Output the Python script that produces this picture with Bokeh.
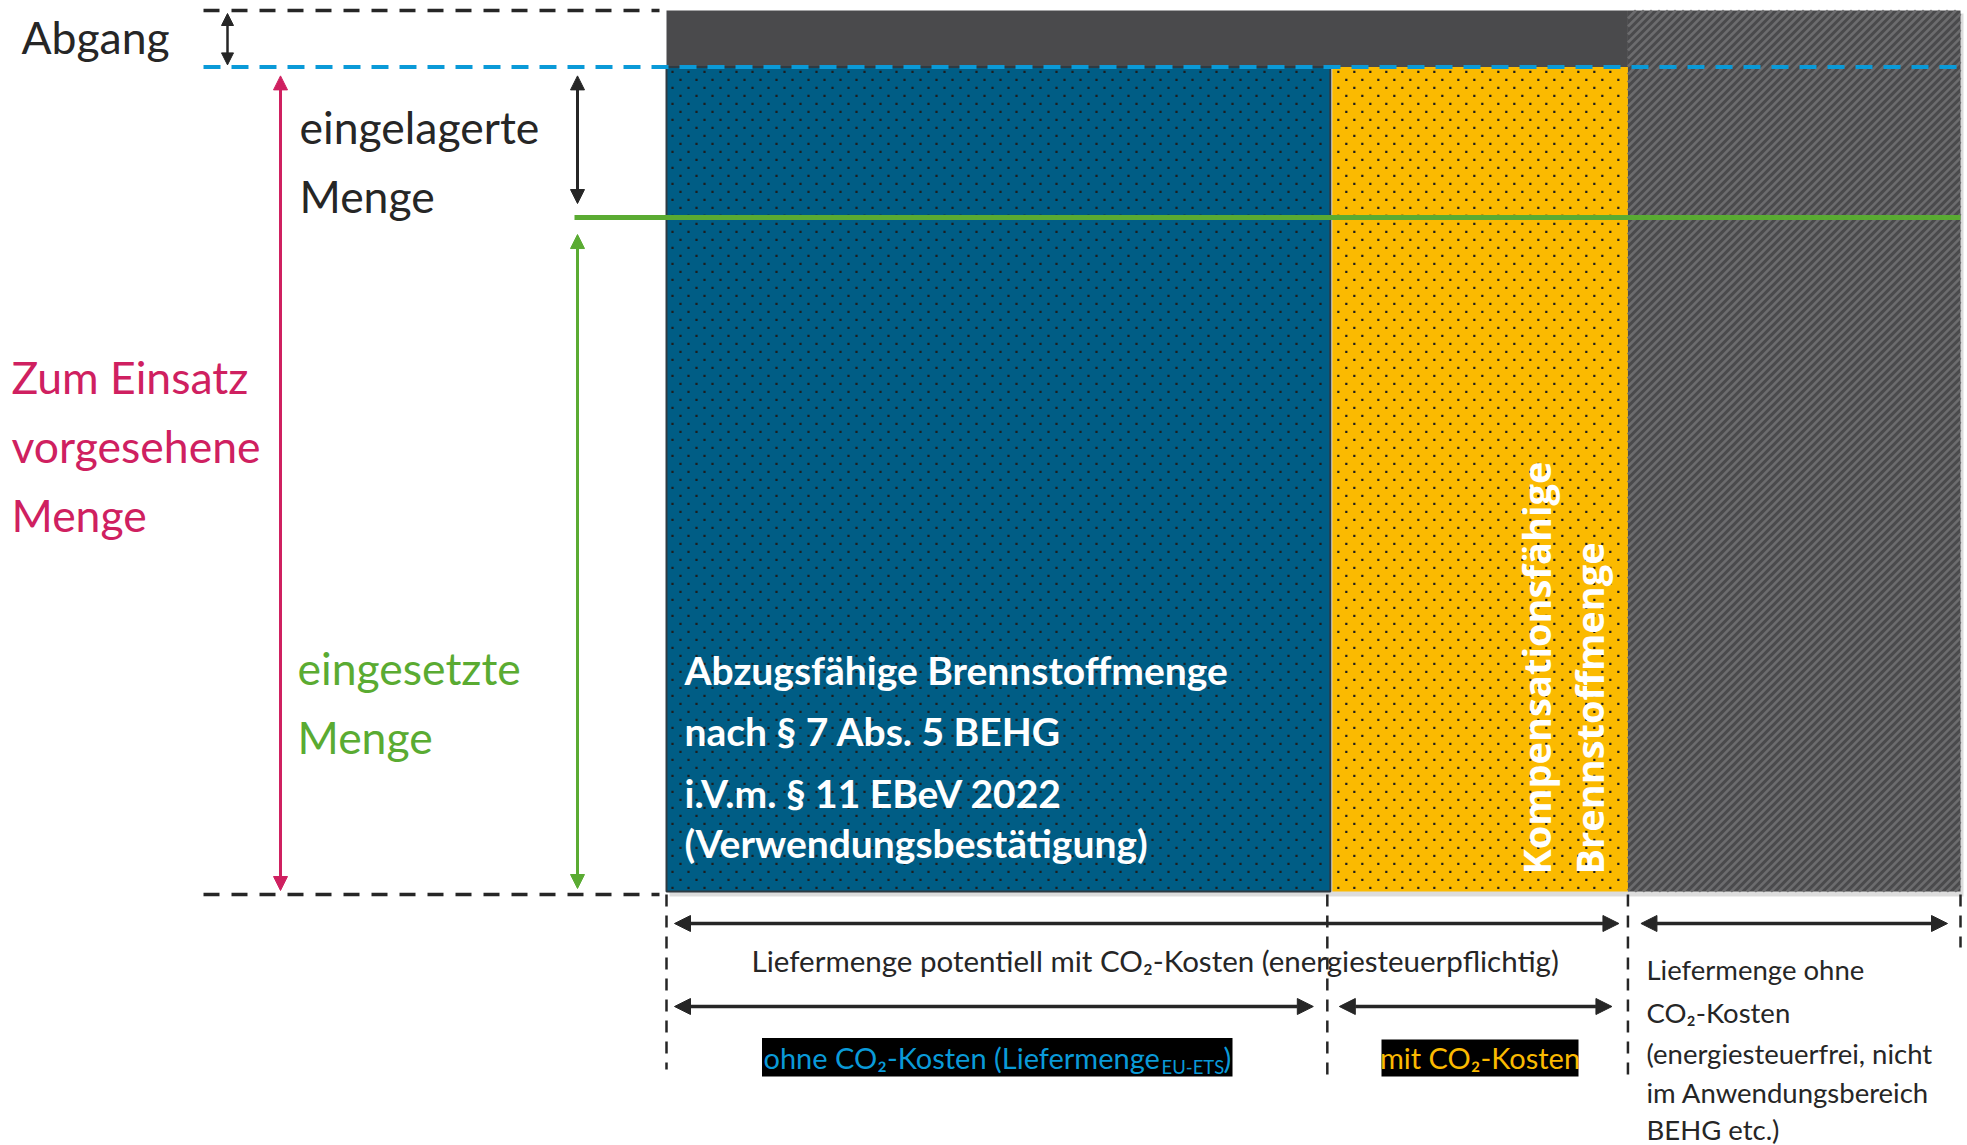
import numpy as np
from bokeh.plotting import figure
from bokeh.models import Range1d, Arrow, NormalHead
from bokeh.core.properties import value
from bokeh.embed import file_html
from bokeh.resources import INLINE

# ---------------- data ----------------
# horizontal split of the delivered quantity (share of total, %)
supply_parts = ["Abzugsfähige Brennstoffmenge", "Kompensationsfähige Brennstoffmenge",
                "Liefermenge ohne CO₂-Kosten"]
supply_share = [51.3, 23.0, 25.7]
# vertical split of the quantity (share of total, %), bottom to top
use_parts = ["eingesetzte Menge", "eingelagerte Menge", "Abgang"]
use_share = [76.5, 17.1, 6.4]

box_text_lines = ["Abzugsfähige Brennstoffmenge", "nach § 7 Abs. 5 BEHG",
                  "i.V.m. § 11 EBeV 2022", "(Verwendungsbestätigung)"]
rot_text_lines = ["Kompensationsfähige", "Brennstoffmenge"]
right_text_lines = ["Liefermenge ohne", "CO₂-Kosten", "(energiesteuerfrei, nicht",
                    "im Anwendungsbereich", "BEHG etc.)"]

# ---------------- layout / style ----------------
W, H = 1967, 1145
BOX_L, BOX_R = 666, 1960
BOX_TOP, BOX_BOT = 10, 891

BLACK = "#262626"
DARK = "#4a4a4c"
BLUE = "#005d85"
YELLOW = "#fbba00"
LBLUE = "#0a9ad8"
GREEN = "#5aab32"
PINK = "#cf2060"
FONT = value("Lato")


def Y(px):
    return H - px


xs = BOX_L + np.concatenate([[0], np.cumsum(supply_share)]) / 100 * (BOX_R - BOX_L)
lv = BOX_BOT - np.concatenate([[0], np.cumsum(use_share)]) / 100 * (BOX_BOT - BOX_TOP)

p = figure(width=W, height=H, x_range=Range1d(0, W), y_range=Range1d(0, H),
           output_backend="svg", toolbar_location=None, min_border=0,
           x_axis_location=None, y_axis_location=None)
p.grid.visible = False
p.outline_line_color = None
p.background_fill_color = "white"
p.border_fill_color = "white"


def dot_texture(x0, x1, y0, y1, step=16):
    """staggered dot raster used as fill texture of a column"""
    px, py = [], []
    for i, yy in enumerate(np.arange(y0, y1, step / 2)):
        xx = np.arange(x0 + (step / 2) * (i % 2), x1, step)
        px.extend(xx)
        py.extend([Y(yy)] * len(xx))
    p.scatter(x=px, y=py, marker="square", size=2.2, fill_color="#1e1e1e", line_color=None)


def stripe_texture(L, R, T, B, step=8):
    """diagonal '/' stripes used as fill texture of a column"""
    x0s, y0s, x1s, y1s = [], [], [], []
    for c in np.arange(L + T, R + B + step, step):
        a, b = max(L, c - B), min(R, c - T)
        if a < b:
            x0s.append(a); y0s.append(Y(c - a)); x1s.append(b); y1s.append(Y(c - b))
    p.segment(x0=x0s, y0=y0s, x1=x1s, y1=y1s, line_color="#6c6c6e", line_width=2.6)


# shadow
p.quad(left=xs[0] + 3, right=xs[3] + 3, top=Y(lv[3] + 3), bottom=Y(lv[0] + 5),
       fill_color="#9a9a9a", fill_alpha=0.35, line_color=None)

# top band (Abgang) over the first two columns
p.quad(left=xs[0], right=xs[2], top=Y(lv[3]), bottom=Y(lv[2]), fill_color=DARK, line_color=None)
# blue column
p.quad(left=xs[0], right=xs[1], top=Y(lv[2]), bottom=Y(lv[0]), fill_color=BLUE,
       line_color="#2e3a42", line_width=2)
dot_texture(xs[0] + 6, xs[1] - 3, lv[2] + 5, lv[0] - 3)
# yellow column
p.quad(left=xs[1] + 2, right=xs[2], top=Y(lv[2]), bottom=Y(lv[0]), fill_color=YELLOW,
       line_color=None)
dot_texture(xs[1] + 8, xs[2] - 3, lv[2] + 5, lv[0] - 3)
# grey hatched column
p.quad(left=xs[2], right=xs[3], top=Y(lv[3]), bottom=Y(lv[0]), fill_color=DARK, line_color=None)
stripe_texture(xs[2], xs[3], lv[3], lv[0])

# dashed level lines
p.segment(x0=[203], y0=[Y(lv[3])], x1=[659], y1=[Y(lv[3])], line_color=BLACK,
          line_width=3.5, line_dash="16 12")
p.segment(x0=[203], y0=[Y(lv[2])], x1=[BOX_R], y1=[Y(lv[2])], line_color=LBLUE,
          line_width=4, line_dash="17 11")
p.segment(x0=[203], y0=[Y(lv[0] + 3)], x1=[659], y1=[Y(lv[0] + 3)], line_color=BLACK,
          line_width=3.5, line_dash="16 12")
# green level line
p.segment(x0=[574], y0=[Y(lv[1])], x1=[BOX_R], y1=[Y(lv[1])], line_color=GREEN, line_width=5)

# vertical dashed separators below the box
vx = [xs[0], xs[1] - 3, xs[2], xs[3]]
vy1 = [1069, 1075, 1077, 947]
p.segment(x0=vx, y0=[Y(lv[0] + 3)] * 4, x1=vx, y1=[Y(v) for v in vy1], line_color=BLACK,
          line_width=2.5, line_dash="12 9")


def darrow(x0, y0, x1, y1, color, size=14, lw=3):
    p.add_layout(Arrow(x_start=x0, y_start=Y(y0), x_end=x1, y_end=Y(y1),
                       start=NormalHead(size=size, fill_color=color, line_color=color),
                       end=NormalHead(size=size, fill_color=color, line_color=color),
                       line_color=color, line_width=lw))


darrow(227, lv[3] + 3, 227, lv[2] - 2, BLACK, size=12, lw=2.5)
darrow(280, lv[2] + 9, 280, lv[0] - 1, PINK, size=14, lw=3)
darrow(577, lv[2] + 9, 577, lv[1] - 14, BLACK, size=14, lw=3)
darrow(577, lv[1] + 17, 577, lv[0] - 3, GREEN, size=14, lw=3)
# bottom dimension arrows
darrow(xs[0] + 8, 923, xs[2] - 9, 923, BLACK, size=16, lw=3.5)
darrow(xs[2] + 13, 923, xs[3] - 13, 923, BLACK, size=16, lw=3.5)
darrow(xs[0] + 8, 1006, xs[1] - 17, 1006, BLACK, size=16, lw=3.5)
darrow(xs[1] + 9, 1006, xs[2] - 16, 1006, BLACK, size=16, lw=3.5)


def txt(x, y, s, color=BLACK, size=44, align="left", style="normal", font=FONT, angle=0):
    p.text(x=[x], y=[Y(y)], text=[s], text_color=color, text_font_size=f"{size}px",
           text_align=align, text_baseline="middle", text_font_style=style,
           text_font=font, angle=angle)


# left labels
txt(21, 36, "Abgang", size=44.5)
txt(299, 126, "eingelagerte", size=44.5)
txt(299, 195, "Menge", size=44.5)
txt(11, 376, "Zum Einsatz", PINK, size=44.5)
txt(11, 445, "vorgesehene", PINK, size=44.5)
txt(11, 514, "Menge", PINK, size=44.5)
txt(297, 667, "eingesetzte", GREEN, size=44.5)
txt(297, 736, "Menge", GREEN, size=44.5)

# text in blue column
for s, yy in zip(box_text_lines, [669, 730, 792, 842]):
    txt(684, yy, s, "white", size=39, style="bold")

# rotated text in yellow column
for s, xx in zip(rot_text_lines, [1535, 1588]):
    txt(xx, 874, s, "white", size=38, style="bold", font=value("Open Sans"), angle=np.pi / 2)

# bottom texts
txt((xs[0] + xs[2]) / 2 + 8, 960, "Liefermenge potentiell mit CO₂-Kosten (energiesteuerpflichtig)",
    size=29.5, align="center")

p.quad(left=761.5, right=1232, top=Y(1037.5), bottom=Y(1076), fill_color="black", line_color=None)
txt(763, 1057, "ohne CO₂-Kosten (Liefermenge", LBLUE, size=29)
txt(1161, 1066, "EU-ETS", LBLUE, size=18.5)
txt(1223, 1057, ")", LBLUE, size=29)

p.quad(left=1381, right=1578, top=Y(1039), bottom=Y(1076), fill_color="black", line_color=None)
txt(1479.5, 1057, "mit CO₂-Kosten", YELLOW, size=29, align="center")

for s, yy in zip(right_text_lines, [969, 1012, 1053, 1092, 1129]):
    txt(1646, yy, s, size=27.5)

open("out.html", "w").write(file_html(p, INLINE))
